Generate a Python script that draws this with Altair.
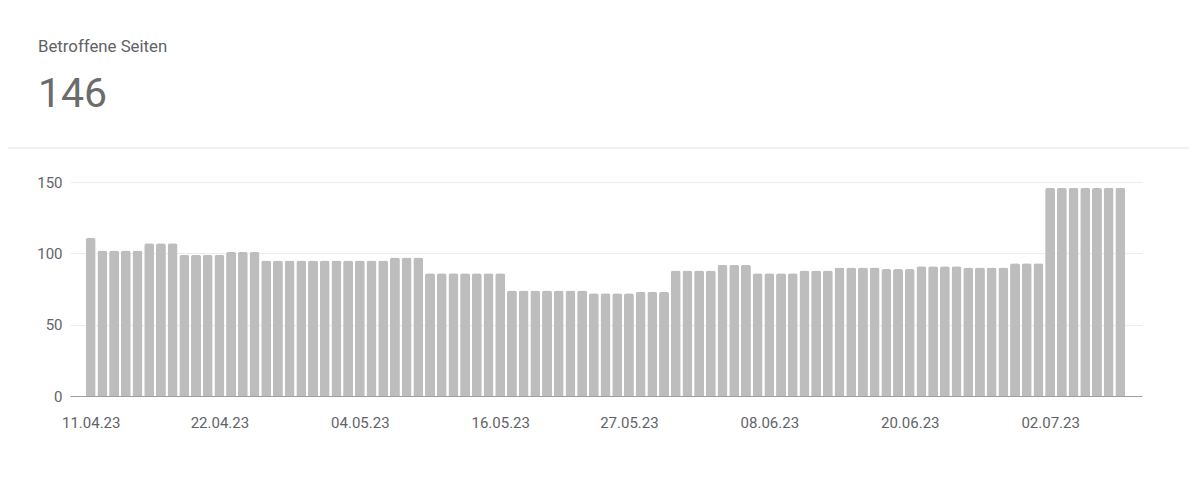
import altair as alt
import pandas as pd

dates = pd.date_range("2023-04-11", periods=89, freq="D").strftime("%d.%m.%y").tolist()

values = [
    111,
    102, 102, 102, 102,
    107, 107, 107,
    99, 99, 99, 99,
    101, 101, 101,
    95, 95, 95, 95, 95, 95, 95, 95, 95, 95, 95,
    97, 97, 97,
    86, 86, 86, 86, 86, 86, 86,
    74, 74, 74, 74, 74, 74, 74,
    72, 72, 72, 72,
    73, 73, 73,
    88, 88, 88, 88,
    92, 92, 92,
    86, 86, 86, 86,
    88, 88, 88,
    90, 90, 90, 90,
    89, 89, 89,
    91, 91, 91, 91,
    90, 90, 90, 90,
    93, 93, 93,
    146, 146, 146, 146, 146, 146, 146,
]

tick_labels = ["11.04.23", "22.04.23", "04.05.23", "16.05.23",
               "27.05.23", "08.06.23", "20.06.23", "02.07.23"]
y_ticks = [0, 50, 100, 150]

title_text = "Betroffene Seiten"
total_text = "146"

df = pd.DataFrame({"idx": list(range(len(dates))), "date": dates, "value": values})
tick_idx = [dates.index(t) for t in tick_labels]

label_expr = "[{}][indexof([{}], datum.value)]".format(
    ",".join("'%s'" % t for t in tick_labels), ",".join(str(i) for i in tick_idx))

FONT = "Roboto"
TXT = "#5f6368"

bars = alt.Chart(df).mark_bar(
    color="#bdbdbd", cornerRadiusTopLeft=2.5, cornerRadiusTopRight=2.5, width=10
).encode(
    x=alt.X("idx:Q",
            scale=alt.Scale(domain=[-1.77, 89.85], nice=False, zero=False, padding=0),
            axis=alt.Axis(values=tick_idx, labelExpr=label_expr, title=None,
                          labelAngle=0, ticks=False, grid=False,
                          domainColor="#9e9e9e", labelColor=TXT,
                          labelFontSize=15, labelPadding=19, labelFont=FONT,
                          labelFlush=False, labelOverlap=False)),
    y=alt.Y("value:Q", scale=alt.Scale(domain=[0, 150], nice=False),
            axis=alt.Axis(values=y_ticks, title=None, domain=False, ticks=False,
                          gridColor="#ececec", labelColor=TXT, labelFontSize=15,
                          labelPadding=8, labelFont=FONT)),
    tooltip=["date:N", "value:Q"],
)

divider = alt.Chart(pd.DataFrame({"d": [0]})).mark_rule(
    color="#e2e2e2", strokeWidth=1
).encode(x=alt.value(-64), x2=alt.value(1119), y=alt.value(-34))

chart = alt.layer(bars, divider).properties(
    width=1072,
    height=214,
    autosize=alt.AutoSizeParams(type="none"),
    padding={"left": 62, "top": 174, "right": 50, "bottom": 70},
    title=alt.Title(title_text, subtitle=total_text, anchor="start",
                    frame="group", dx=-32, offset=33,
                    font=FONT, fontSize=16.8, fontWeight="normal", color=TXT,
                    subtitleFont=FONT, subtitleFontSize=41,
                    subtitleColor="#6b6b6b", subtitlePadding=19),
).configure(background="white").configure_view(stroke=None)

chart.save("out.html", embed_options={"renderer": "svg", "actions": False})
